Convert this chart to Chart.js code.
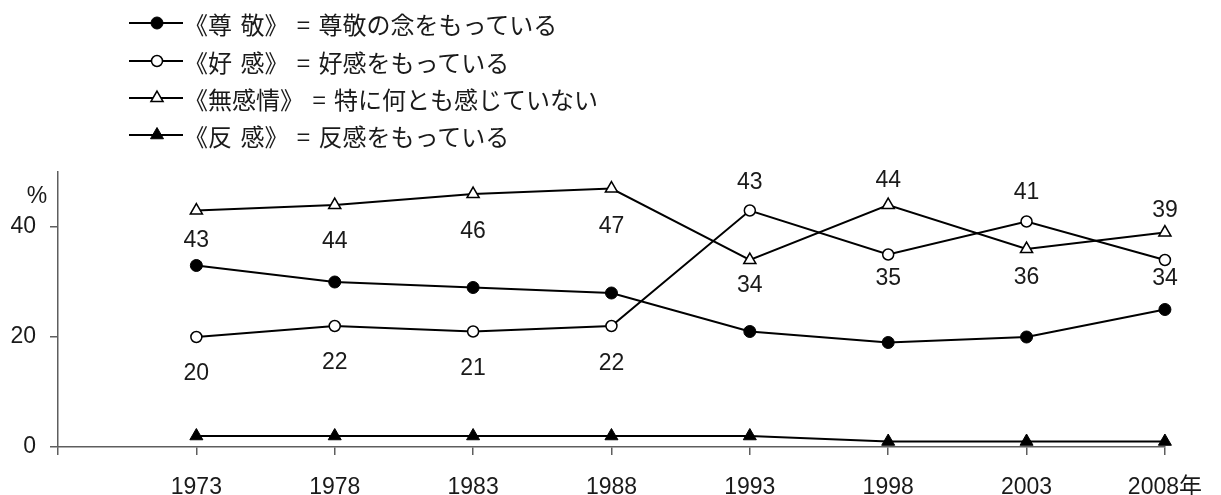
<!DOCTYPE html>
<html>
<head>
<meta charset="utf-8">
<script src="https://cdn.jsdelivr.net/npm/chart.js@4/dist/chart.umd.min.js"></script>
<style>
  html, body { margin: 0; padding: 0; background: #fff; }
  #wrap { position: relative; width: 1221px; height: 495px; }
  canvas { position: absolute; left: 0; top: 0; }
  .lg { position: absolute; left: 129px; height: 30px; display: flex; align-items: center;
        font-family: 'Noto Sans CJK JP', sans-serif; font-size: 24px; color: #1a1a1a; white-space: pre; word-spacing: 3px; }
  .lg svg { display: block; margin-right: 1px; }
</style>
</head>
<body>
<div id="wrap">
  <canvas id="c" width="1221" height="495"></canvas>
  <div id="legend"></div>
</div>
<script>
// ---- data ----
const years = [1973, 1978, 1983, 1988, 1993, 1998, 2003, 2008];
const sonkei = [33, 30, 29, 28, 21, 19, 20, 25];      // 尊敬
const koukan = [20, 22, 21, 22, 43, 35, 41, 34];      // 好感
const mukanjou = [43, 44, 46, 47, 34, 44, 36, 39];    // 無感情
const hankan = [2, 2, 2, 2, 2, 1, 1, 1];              // 反感
const yTickValues = [0, 20, 40];
const legendTexts = [
  '《尊 敬》 = 尊敬の念をもっている',
  '《好 感》 = 好感をもっている',
  '《無感情》 = 特に何とも感じていない',
  '《反 感》 = 反感をもっている'
];

// ---- styles (label placement offsets, px) ----
const koukanLabelOffsets = [37, 37, 37, 38, -28, 24, -29, 19];
const mukanjouLabelOffsets = [30, 37, 38, 38, 26, -24, 29, -22];

const NUM_FONT = "'Liberation Sans', Arial, 'Noto Sans CJK JP', sans-serif";
const TXT = '#1a1a1a';
const AXIS = '#5e5e5e';

function pts(vals) { return years.map((y, i) => ({ x: y, y: vals[i] })); }

const markerStyles = [
  { pointStyle: 'circle', radius: 6, bg: '#000', bw: 1 },
  { pointStyle: 'circle', radius: 5.5, bg: '#fff', bw: 1.5 },
  { pointStyle: 'triangle', radius: 7, bg: '#fff', bw: 1.5 },
  { pointStyle: 'triangle', radius: 7.5, bg: '#000', bw: 1 }
];
const seriesVals = [sonkei, koukan, mukanjou, hankan];
const labelOffsets = [null, koukanLabelOffsets, mukanjouLabelOffsets, null];

const datasets = seriesVals.map((vals, i) => ({
  label: legendTexts[i],
  data: pts(vals),
  borderColor: '#000',
  borderWidth: 2,
  pointStyle: markerStyles[i].pointStyle,
  pointRadius: markerStyles[i].radius,
  pointBackgroundColor: markerStyles[i].bg,
  pointBorderColor: '#000',
  pointBorderWidth: markerStyles[i].bw,
  clip: false,
  tension: 0,
  labelOffsets: labelOffsets[i]
}));

const valueLabels = {
  id: 'valueLabels',
  afterDatasetsDraw(chart) {
    const ctx = chart.ctx;
    ctx.save();
    ctx.font = '23px ' + NUM_FONT;
    ctx.fillStyle = TXT;
    ctx.textAlign = 'center';
    ctx.textBaseline = 'middle';
    chart.data.datasets.forEach((ds, di) => {
      if (!ds.labelOffsets) return;
      const meta = chart.getDatasetMeta(di);
      meta.data.forEach((el, j) => {
        ctx.fillText(String(ds.data[j].y), el.x, el.y + ds.labelOffsets[j]);
      });
    });
    // percent sign
    const ys = chart.scales.y;
    ctx.fillText('%', 37, ys.top + 25);
    ctx.restore();
  }
};

new Chart(document.getElementById('c'), {
  type: 'line',
  data: { datasets },
  options: {
    responsive: false,
    animation: false,
    events: [],
    layout: { padding: { top: 172, right: 41, left: 0, bottom: 0 } },
    plugins: { legend: { display: false }, tooltip: { enabled: false } },
    scales: {
      x: {
        type: 'linear',
        min: 1968, max: 2008,
        afterBuildTicks(scale) { scale.ticks = [1968].concat(years).map(v => ({ value: v })); },
        afterFit(scale) { scale.height = 48; },
        ticks: {
          autoSkip: false, maxRotation: 0,
          padding: 19,
          color: TXT,
          font: { family: NUM_FONT, size: 23 },
          callback: (v) => v === 1968 ? '' : (v === 2008 ? '2008年' : String(v))
        },
        grid: { drawOnChartArea: false, drawTicks: true, tickLength: 8, color: AXIS, lineWidth: 1.5 },
        border: { display: true, color: AXIS, width: 1.5 }
      },
      y: {
        type: 'linear',
        min: 0, max: 50,
        afterBuildTicks(scale) { scale.ticks = yTickValues.map(v => ({ value: v })); },
        afterFit(scale) { scale.width = 58; },
        ticks: {
          padding: 14,
          color: TXT,
          font: { family: NUM_FONT, size: 23 },
          callback: (v) => String(v)
        },
        grid: { drawOnChartArea: false, drawTicks: true, tickLength: 8, color: AXIS, lineWidth: 1.5 },
        border: { display: true, color: AXIS, width: 1.5 }
      }
    }
  },
  plugins: [valueLabels]
});

// ---- HTML legend ----
const legendTops = [23, 61, 98, 135];
const legendEl = document.getElementById('legend');
function symbolSvg(i) {
  const m = markerStyles[i];
  let marker;
  if (m.pointStyle === 'circle') {
    marker = `<circle cx="28" cy="15" r="${m.radius}" fill="${m.bg}" stroke="#000" stroke-width="${m.bw}"/>`;
  } else {
    const r = m.radius;
    const h = r * Math.sqrt(3) / 2;
    marker = `<polygon points="28,${15 - r} ${28 + h},${15 + r / 2} ${28 - h},${15 + r / 2}" fill="${m.bg}" stroke="#000" stroke-width="${m.bw}"/>`;
  }
  return `<svg width="54" height="30" viewBox="0 0 54 30"><line x1="0" y1="15" x2="54" y2="15" stroke="#000" stroke-width="2"/>${marker}</svg>`;
}
legendTexts.forEach((t, i) => {
  const d = document.createElement('div');
  d.className = 'lg';
  d.style.top = (legendTops[i] - 15) + 'px';
  d.innerHTML = symbolSvg(i) + '<span></span>';
  d.querySelector('span').textContent = t;
  legendEl.appendChild(d);
});
</script>
</body>
</html>
